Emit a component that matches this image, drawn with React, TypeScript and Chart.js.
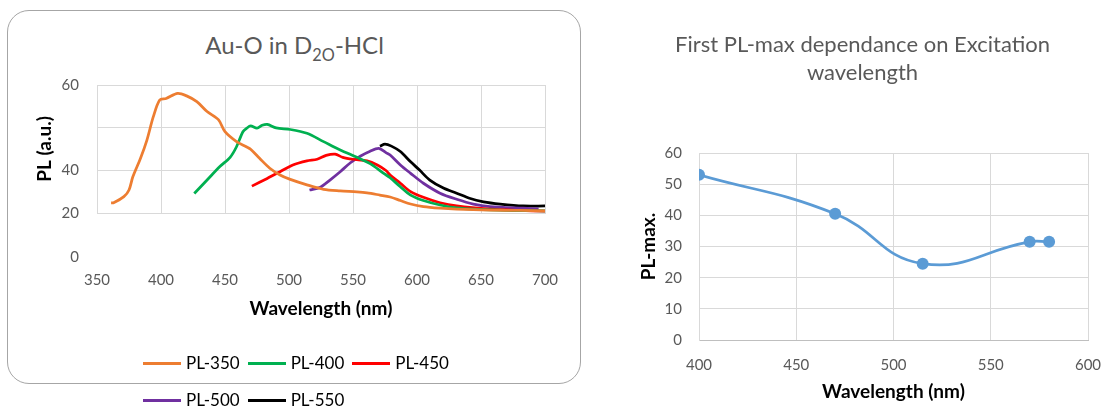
import React, { useEffect, useRef } from "react";
import { Chart, registerables } from "chart.js";

Chart.register(...registerables);

const FONT = "Lato, 'Open Sans', sans-serif";
const TICK_COLOR = "#595959";
const GRID_COLOR = "#D9D9D9";

// ---------- Left chart: Au-O in D2O-HCl ----------
const wl350 = [361, 363, 371, 375, 378, 384, 389, 394, 399, 404, 413, 420, 428, 436, 445, 450, 459, 467, 470, 477, 485, 493, 501, 514, 527, 540, 553, 561, 571, 579, 587, 595, 605, 618, 631, 657, 680, 700];
const pl350 = [23.2, 23.2, 25.1, 27.2, 31.3, 37.1, 42.8, 50.1, 55.3, 55.8, 57.4, 56.6, 54.8, 51.7, 49.1, 45.4, 42.3, 40.6, 39.9, 37.1, 34.0, 31.9, 30.5, 28.8, 27.4, 26.9, 26.6, 26.3, 25.6, 25.0, 23.9, 22.8, 22.0, 21.5, 21.2, 20.9, 20.8, 20.7];

const wl400 = [426, 436, 446, 454, 459, 464, 467, 470, 475, 479, 483, 490, 501, 514, 527, 540, 553, 563, 574, 579, 587, 595, 605, 618, 631, 644, 670, 700];
const pl400 = [26.1, 30.3, 34.5, 37.4, 40.7, 45.4, 46.5, 47.2, 46.5, 47.4, 47.7, 46.6, 46.1, 44.9, 42.3, 39.7, 37.4, 35.5, 32.4, 31.0, 28.2, 25.6, 23.9, 22.5, 21.6, 21.2, 20.8, 20.7];

const wl450 = [471, 483, 493, 503, 514, 522, 529, 536, 542, 550, 561, 569, 576, 579, 587, 595, 605, 618, 631, 657, 680, 700];
const pl450 = [28.4, 30.8, 32.9, 35.0, 36.3, 36.8, 38.0, 38.4, 37.4, 36.8, 36.3, 35.0, 33.2, 31.9, 29.3, 26.7, 24.9, 23.2, 22.2, 21.2, 20.8, 20.6];

const wl500 = [516, 524, 532, 540, 548, 556, 563, 570, 576, 579, 587, 595, 605, 618, 631, 644, 657, 683, 695];
const pl500 = [27.2, 28.0, 30.3, 32.9, 35.7, 37.8, 39.2, 40.2, 38.8, 38.1, 35.0, 32.4, 29.3, 26.2, 24.3, 22.8, 22.0, 21.5, 21.3];

const wl550 = [571, 575, 580, 587, 595, 602, 610, 621, 631, 641, 652, 665, 683, 700];
const pl550 = [40.9, 41.5, 40.9, 39.2, 36.0, 33.4, 30.3, 27.7, 26.2, 24.6, 23.5, 22.8, 22.2, 22.2];

const seriesLabels = ["PL-350", "PL-400", "PL-450", "PL-500", "PL-550"];
const seriesColors = ["#ED7D31", "#00B050", "#FF0000", "#7030A0", "#000000"];
const seriesX = [wl350, wl400, wl450, wl500, wl550];
const seriesY = [pl350, pl400, pl450, pl500, pl550];

const leftXTicks = { min: 350, max: 700, step: 50 };
const leftYTickValues = [20, 20 + 40 / 3, 20 + 80 / 3, 60];
const leftYTickLabels = ["20", "40", "", "60"];
const leftExtraTickLabel = "0";

// ---------- Right chart: First PL-max dependance ----------
const excitation = [400, 470, 515, 570, 580];
const plMax = [53, 40.5, 24.5, 31.5, 31.5];

const TICK_FONT = { family: FONT, size: 15 };
const AXIS_TITLE_FONT = { family: FONT, size: 19, weight: "bold" };

const extraZeroPlugin = {
  id: "extraZero",
  afterDraw(chart: any) {
    const { ctx, chartArea } = chart;
    const ys = chart.scales.y;
    ctx.save();
    ctx.font = `15px ${FONT}`;
    ctx.fillStyle = TICK_COLOR;
    ctx.textAlign = "right";
    ctx.textBaseline = "middle";
    ctx.fillText(leftExtraTickLabel, ys.right - 18, chartArea.bottom + 44);
    ctx.restore();
  },
};

const noSidePadding = (s: any) => {
  s.paddingLeft = 0;
  s.paddingRight = 0;
};

function LeftChart() {
  const ref = useRef<HTMLCanvasElement | null>(null);
  useEffect(() => {
    if (!ref.current) return;
    const chart = new Chart(ref.current, {
      type: "line",
      data: {
        datasets: seriesLabels.map((label, i) => ({
          label,
          data: seriesX[i].map((x, j) => ({ x, y: seriesY[i][j] })),
          borderColor: seriesColors[i],
          backgroundColor: seriesColors[i],
          borderWidth: 2.75,
          pointRadius: 0,
          tension: 0.3,
          fill: false,
        })),
      },
      options: {
        animation: false,
        responsive: false,
        maintainAspectRatio: false,
        layout: { padding: { left: 28, right: 45, top: 85, bottom: 87 } },
        plugins: {
          legend: { display: false },
          title: { display: false },
          tooltip: { enabled: false },
        },
        scales: {
          x: {
            type: "linear",
            min: leftXTicks.min,
            max: leftXTicks.max,
            ticks: { stepSize: leftXTicks.step, padding: 58, color: TICK_COLOR, font: TICK_FONT },
            grid: { color: GRID_COLOR, drawTicks: false },
            border: { color: GRID_COLOR },
            title: {
              display: true,
              text: "Wavelength (nm)",
              color: "#000",
              font: AXIS_TITLE_FONT,
              padding: { top: 0, bottom: 3 },
            },
            afterFit: (s: any) => {
              s.height = 110;
              noSidePadding(s);
            },
          },
          y: {
            type: "linear",
            min: 20,
            max: 60,
            afterBuildTicks: (s: any) => {
              s.ticks = leftYTickValues.map((v) => ({ value: v }));
            },
            ticks: {
              padding: 18,
              color: TICK_COLOR,
              font: TICK_FONT,
              callback: (_v: any, i: number) => leftYTickLabels[i],
            },
            grid: { color: GRID_COLOR, drawTicks: false },
            border: { color: GRID_COLOR },
            title: {
              display: true,
              text: "PL (a.u.)",
              color: "#000",
              font: AXIS_TITLE_FONT,
              padding: { top: 5, bottom: 0 },
            },
            afterFit: (s: any) => {
              s.width = 69;
            },
          },
        },
      } as any,
      plugins: [extraZeroPlugin],
    });
    return () => chart.destroy();
  }, []);
  return (
    <canvas
      ref={ref}
      width={590}
      height={410}
      style={{ position: "absolute", left: 0, top: 0, width: 590, height: 410 }}
    />
  );
}

function RightChart() {
  const ref = useRef<HTMLCanvasElement | null>(null);
  useEffect(() => {
    if (!ref.current) return;
    const chart = new Chart(ref.current, {
      type: "line",
      data: {
        datasets: [
          {
            label: "PL-max",
            data: excitation.map((x, i) => ({ x, y: plMax[i] })),
            borderColor: "#5B9BD5",
            backgroundColor: "#5B9BD5",
            borderWidth: 2.75,
            pointRadius: 6,
            pointBorderWidth: 0,
            tension: 0.45,
            fill: false,
          },
        ],
      },
      options: {
        animation: false,
        responsive: false,
        maintainAspectRatio: false,
        layout: { padding: { left: 47, right: 14, top: 0, bottom: 5 } },
        plugins: {
          legend: { display: false },
          tooltip: { enabled: false },
          title: {
            display: true,
            text: ["First PL-max dependance on Excitation", "wavelength"],
            color: TICK_COLOR,
            font: { family: FONT, size: 22, weight: "normal", lineHeight: 28 / 22 },
            padding: { top: 31, bottom: 66 },
          },
        },
        scales: {
          x: {
            type: "linear",
            min: 400,
            max: 600,
            ticks: { stepSize: 50, padding: 16, color: TICK_COLOR, font: TICK_FONT },
            grid: { color: GRID_COLOR, drawTicks: false },
            border: { color: "#BFBFBF" },
            title: {
              display: true,
              text: "Wavelength (nm)",
              color: "#000",
              font: AXIS_TITLE_FONT,
              padding: { top: 0, bottom: 2 },
            },
            afterFit: (s: any) => {
              s.height = 65;
              noSidePadding(s);
            },
          },
          y: {
            type: "linear",
            min: 0,
            max: 60,
            ticks: { stepSize: 10, padding: 17, color: TICK_COLOR, font: TICK_FONT },
            grid: { color: GRID_COLOR, drawTicks: false },
            border: { color: GRID_COLOR },
            title: {
              display: true,
              text: "PL-max.",
              color: "#000",
              font: AXIS_TITLE_FONT,
              padding: { top: 0, bottom: 0 },
            },
            afterFit: (s: any) => {
              s.width = 62;
            },
          },
        },
      } as any,
    });
    return () => chart.destroy();
  }, []);
  return (
    <canvas
      ref={ref}
      width={512}
      height={410}
      style={{ position: "absolute", left: 590, top: 0, width: 512, height: 410 }}
    />
  );
}

export default function App() {
  return (
    <div
      style={{
        position: "fixed",
        left: 0,
        top: 0,
        width: 1102,
        height: 410,
        background: "#fff",
        overflow: "hidden",
        fontFamily: FONT,
      }}
    >
      <div
        style={{
          position: "absolute",
          left: 7,
          top: 10,
          width: 574,
          height: 374,
          border: "1px solid #A6A6A6",
          borderRadius: 22,
          boxSizing: "border-box",
        }}
      />
      <div
        style={{
          position: "absolute",
          left: 7,
          top: 32,
          width: 575,
          textAlign: "center",
          fontSize: 24,
          lineHeight: "26px",
          color: TICK_COLOR,
        }}
      >
        Au-O in D<sub style={{ fontSize: "0.68em", verticalAlign: "-0.4em", lineHeight: 0 }}>2O</sub>-HCl
      </div>
      <LeftChart />
      <div
        style={{
          position: "absolute",
          left: 143,
          top: 353,
          width: 350,
          display: "flex",
          flexWrap: "wrap",
          columnGap: 8,
          rowGap: 17,
        }}
      >
        {seriesLabels.map((label, i) => (
          <div key={label} style={{ display: "flex", alignItems: "center", height: 20 }}>
            <span style={{ display: "inline-block", width: 38, height: 3, background: seriesColors[i], marginRight: 5 }} />
            <span style={{ fontSize: 17, color: "#000", lineHeight: "20px" }}>{label}</span>
          </div>
        ))}
      </div>
      <RightChart />
    </div>
  );
}
